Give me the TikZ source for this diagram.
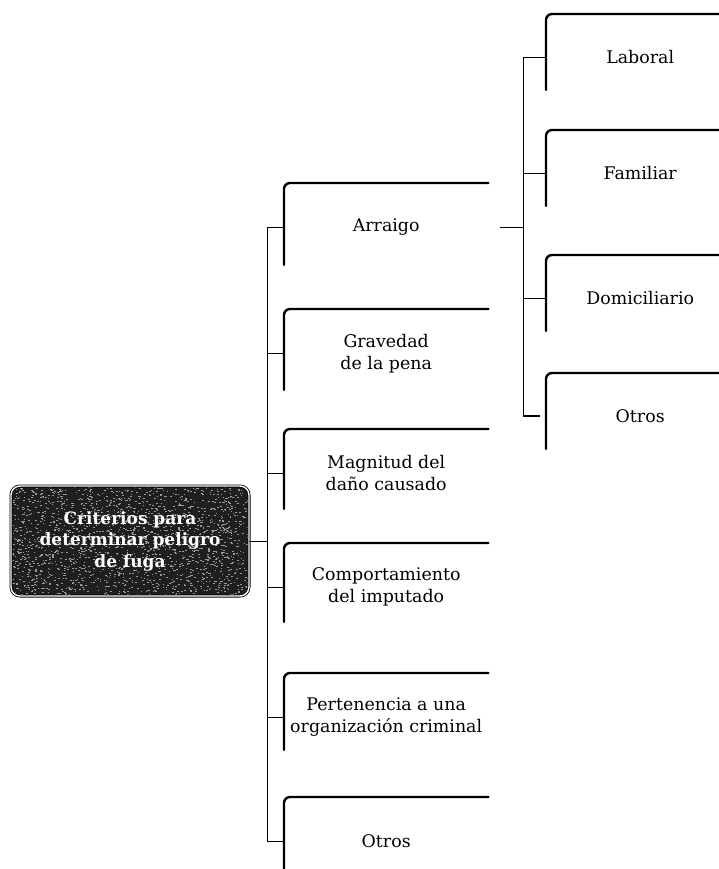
\documentclass[tikz,border=0pt]{standalone}
\usepackage{fontspec}
\setmainfont{DejaVu Serif}
\usetikzlibrary{calc}

\begin{document}
\begin{tikzpicture}[x=1pt,y=-1pt,
  txt/.style={align=center, inner sep=0pt, font=\fontsize{17.4}{22}\selectfont},
  item/.style={txt, anchor=north west, minimum width=204pt, minimum height=88pt},
  subitem/.style={txt, anchor=north west, minimum width=188pt, minimum height=86pt},
  bracket/.style={line width=2.4pt, rounded corners=6pt, line cap=round},
  link/.style={line width=0.9pt},
  speck/.style={fill=black!40, sharp corners, draw=none},
  rootbox/.style={draw=black, line width=0.8pt, double=white, double distance=1.4pt,
    fill=black!88, rounded corners=9pt, minimum width=238pt, minimum height=110pt,
    inner sep=0pt, align=center, text=white,
    font=\bfseries\fontsize{17}{21.5}\selectfont,
    path picture={
      \pgfmathsetseed{11}
      \foreach \i in {1,...,2000}{
        \fill[speck] ($(path picture bounding box.north west)+(rnd*240,rnd*112)$)
          rectangle ++(1.6,0.9);
      }
    }},
]
\useasboundingbox (0,0) rectangle (718,869);

% root of the tree
\node[rootbox] (root) at (130,541)
  {Criterios para\\determinar peligro\\de fuga};

% first level criteria
\node[item] (arraigo)  at (284,183) {Arraigo};
\node[item] (gravedad) at (284,309) {Gravedad\\de la pena};
\node[item] (magnitud) at (284,429) {Magnitud del\\daño causado};
\node[item] (comport)  at (284,543) {Comportamiento\\del imputado};
\node[item] (perten)   at (284,673) {Pertenencia a una\\organización criminal};
\node[item] (otros)    at (284,797) {Otros};

% kinds of arraigo
\node[subitem] (laboral)  at (546,14)  {Laboral};
\node[subitem] (familiar) at (546,130) {Familiar};
\node[subitem] (domic)    at (546,255) {Domiciliario};
\node[subitem] (otrosarr) at (546,373) {Otros};

% open brackets on the left and top of every item
\draw[bracket] ($(arraigo.north west)+(0,82)$)  -- (arraigo.north west)  -- (arraigo.north east);
\draw[bracket] ($(gravedad.north west)+(0,81)$) -- (gravedad.north west) -- (gravedad.north east);
\draw[bracket] ($(magnitud.north west)+(0,80)$) -- (magnitud.north west) -- (magnitud.north east);
\draw[bracket] ($(comport.north west)+(0,79)$)  -- (comport.north west)  -- (comport.north east);
\draw[bracket] ($(perten.north west)+(0,77)$)   -- (perten.north west)   -- (perten.north east);
\draw[bracket] ($(otros.north west)+(0,90)$)    -- (otros.north west)    -- (otros.north east);

\foreach \n in {laboral,familiar,domic,otrosarr}{
  \draw[bracket] ($(\n.north west)+(0,76)$) -- (\n.north west) -- (\n.north east);
}

% main trunk
\coordinate (trunk) at (267,0);
\draw[link] (root.east) -- (root.east -| trunk);
\draw[link] (arraigo.west) -- (arraigo.west -| trunk) -- (otros.west -| trunk) -- (otros.west);
\foreach \n in {gravedad,magnitud,comport,perten}{
  \draw[link] (\n.west) -- (\n.west -| trunk);
}

% branch of arraigo
\coordinate (subtrunk) at (523,0);
\coordinate (arrout) at ($(arraigo.east)+(12,0)$);
\draw[link] (arrout) -- (arrout -| subtrunk);
\draw[link] (laboral.west) -- (laboral.west -| subtrunk) -- (otrosarr.west -| subtrunk);
\foreach \n in {familiar,domic}{
  \draw[link] (\n.west) -- (\n.west -| subtrunk);
}
\coordinate (otrosend) at ($(otrosarr.west)+(-6,0)$);
\draw[line width=1.8pt] (otrosarr.west -| subtrunk) -- (otrosend);
\end{tikzpicture}
\end{document}
